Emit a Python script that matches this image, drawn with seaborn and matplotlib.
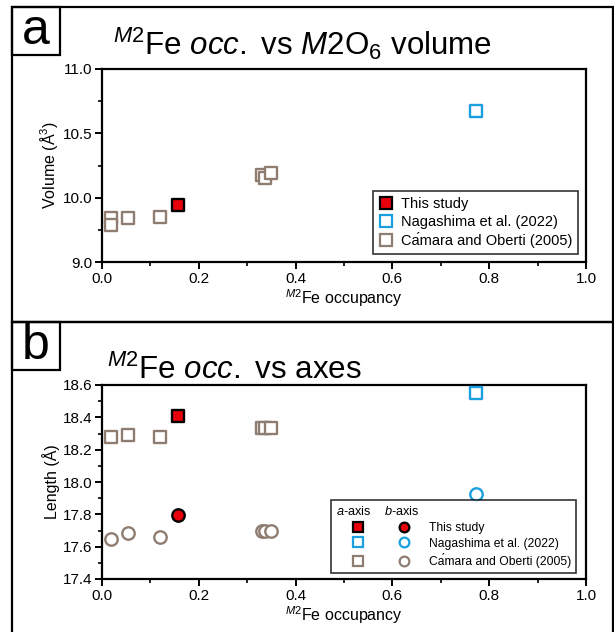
import numpy as np
import pandas as pd
import matplotlib
matplotlib.use("Agg")
import matplotlib.pyplot as plt
import seaborn as sns
from matplotlib.lines import Line2D
from matplotlib.patches import Rectangle
from matplotlib.legend_handler import HandlerTuple

# ---------------- data ----------------
sources = ["This study", "Nagashima et al. (2022)", "Ca\u0301mara and Oberti (2005)"]

# panel a : M2 Fe occupancy vs M2O6 volume
this_occ = [0.156]
this_vol = [9.94]
naga_occ = [0.773]
naga_vol = [10.67]
cam_occ = [0.019, 0.019, 0.054, 0.119, 0.331, 0.337, 0.350]
cam_vol = [9.845, 9.79, 9.845, 9.85, 10.18, 10.15, 10.19]

# panel b : axes lengths
this_a = [18.41]
this_b = [17.795]
naga_a = [18.55]
naga_b = [17.925]
cam_occ_b = [0.019, 0.054, 0.119, 0.331, 0.337, 0.350]
cam_a = [18.28, 18.29, 18.28, 18.335, 18.335, 18.335]
cam_b = [17.648, 17.685, 17.66, 17.697, 17.697, 17.697]

vol_ticks = [9.5, 10.0, 10.5, 11.0]
vol_ticklabels = ["9.0", "10.0", "10.5", "11.0"]
len_ticks = [17.4, 17.6, 17.8, 18.0, 18.2, 18.4, 18.6]
x_ticks = [0.0, 0.2, 0.4, 0.6, 0.8, 1.0]

RED = "#e8000b"
BLUE = "#1a9fe0"
GREY = "#8f7d72"

# ---------------- style ----------------
sns.set_theme(style="white")
plt.rcParams["font.family"] = ["Liberation Sans", "DejaVu Sans"]
plt.rcParams["mathtext.fontset"] = "custom"
plt.rcParams["mathtext.rm"] = "Liberation Sans"
plt.rcParams["mathtext.it"] = "Liberation Sans:italic"
plt.rcParams["mathtext.bf"] = "Liberation Sans:bold"
for k in ["text.color", "axes.labelcolor", "xtick.color", "ytick.color"]:
    plt.rcParams[k] = "black"

W, H = 614, 632
fig = plt.figure(figsize=(W / 100, H / 100), dpi=100)


def fx(px):
    return px / W


def fy(py):
    return 1 - py / H


L, R = 102, 586
axa = fig.add_axes([fx(L), fy(262), fx(R - L), (262 - 69) / H])
axb = fig.add_axes([fx(L), fy(579), fx(R - L), (579 - 385) / H])

# outer frames
for (y0, y1) in [(7, 322), (322, 640)]:
    fig.add_artist(Rectangle((fx(12), fy(y1)), fx(601), (y1 - y0) / H,
                             transform=fig.transFigure, fill=False,
                             edgecolor="black", linewidth=1.6, zorder=0))
# label boxes
for (y0, lab) in [(7, "a"), (322, "b")]:
    fig.add_artist(Rectangle((fx(12), fy(y0 + 48)), fx(48), 48 / H,
                             transform=fig.transFigure, fill=False,
                             edgecolor="black", linewidth=1.6))
    fig.text(fx(36), fy(y0 + 24), lab, fontsize=36, ha="center", va="center")

fig.text(fx(302), fy(44), r"$^{M2}$Fe $occ.$ vs $M$2O$_6$ volume",
         fontsize=22.5, ha="center", va="center")
fig.text(fx(107), fy(370), r"$^{M2}$Fe $occ.$ vs axes",
         fontsize=22.5, ha="left", va="center")


def scat(ax, x, y, marker, face, edge, s, lw=1.7):
    df = pd.DataFrame({"x": x, "y": y})
    sns.scatterplot(data=df, x="x", y="y", ax=ax, marker=marker, s=s,
                    color=face, edgecolor=edge, linewidth=lw, legend=False,
                    zorder=3, clip_on=False)


# panel a
scat(axa, cam_occ, cam_vol, "s", "white", GREY, 70)
scat(axa, naga_occ, naga_vol, "s", "white", BLUE, 70)
scat(axa, this_occ, this_vol, "s", RED, "black", 70)

# panel b
scat(axb, cam_occ_b, cam_a, "s", "white", GREY, 70)
scat(axb, cam_occ_b, cam_b, "o", "white", GREY, 80)
scat(axb, naga_occ, naga_a, "s", "white", BLUE, 70)
scat(axb, naga_occ, naga_b, "o", "white", BLUE, 80)
scat(axb, this_occ, this_a, "s", RED, "black", 70)
scat(axb, this_occ, this_b, "o", RED, "black", 80)

for ax in (axa, axb):
    ax.set_xlim(0, 1.0)
    ax.set_xticks(x_ticks)
    ax.set_xticks(np.arange(0.1, 1.0, 0.2), minor=True)
    ax.set_xticklabels([f"{t:.1f}" for t in x_ticks])
    for sp in ax.spines.values():
        sp.set_visible(True)
        sp.set_color("black")
        sp.set_linewidth(1.6)
    ax.tick_params(which="major", direction="out", length=5, width=1.4,
                   labelsize=11, pad=2, left=True, bottom=True, color="black")
    ax.tick_params(which="minor", direction="out", length=3, width=1.2,
                   left=True, bottom=True, color="black")
    ax.set_xlabel(r"$^{M2}$Fe occupancy", fontsize=11.5, labelpad=1)
    ax.grid(False)

axa.set_ylim(9.5, 11.0)
axa.set_yticks(vol_ticks)
axa.set_yticklabels(vol_ticklabels)
axa.set_yticks([9.75, 10.25, 10.75], minor=True)
axa.set_ylabel("Volume (\u00c5$^3$)", fontsize=11.5, labelpad=2)

axb.set_ylim(17.4, 18.6)
axb.set_yticks(len_ticks)
axb.set_yticklabels([f"{t:.1f}" for t in len_ticks])
axb.set_yticks(np.arange(17.5, 18.6, 0.2), minor=True)
axb.set_ylabel("Length (\u00c5)", fontsize=11.5, labelpad=2)


def sq(face, edge, ms=8):
    return Line2D([], [], marker="s", linestyle="none", markersize=ms,
                  markerfacecolor=face, markeredgecolor=edge, markeredgewidth=1.6)


def ci(face, edge, ms=8.5):
    return Line2D([], [], marker="o", linestyle="none", markersize=ms,
                  markerfacecolor=face, markeredgecolor=edge, markeredgewidth=1.6)


hand_a = [sq(RED, "black"), sq("white", BLUE), sq("white", GREY)]
lga = axa.legend(hand_a, sources, loc="lower right", bbox_to_anchor=(0.983, 0.041),
                 borderaxespad=0, fontsize=10.5, frameon=True, fancybox=False,
                 edgecolor="black", handlelength=1.0, handletextpad=0.5,
                 labelspacing=0.25, borderpad=0.4)
lga.get_frame().set_linewidth(1.2)

hand_b = [(sq(RED, "black", 7), ci(RED, "black", 7)),
          (sq("white", BLUE, 7), ci("white", BLUE, 7)),
          (sq("white", GREY, 7), ci("white", GREY, 7))]
lgb = axb.legend(hand_b, sources, loc="lower right", bbox_to_anchor=(0.979, 0.031),
                 borderaxespad=0, fontsize=8.7, frameon=True, fancybox=False,
                 edgecolor="black", handlelength=7.5, handletextpad=0.2,
                 labelspacing=0.3, borderpad=0.4,
                 title="$a$-axis    $b$-axis", title_fontsize=9.2,
                 alignment="left",
                 handler_map={tuple: HandlerTuple(ndivide=2, pad=0)})
lgb.get_frame().set_linewidth(1.2)

fig.savefig("out.png", dpi=100)
